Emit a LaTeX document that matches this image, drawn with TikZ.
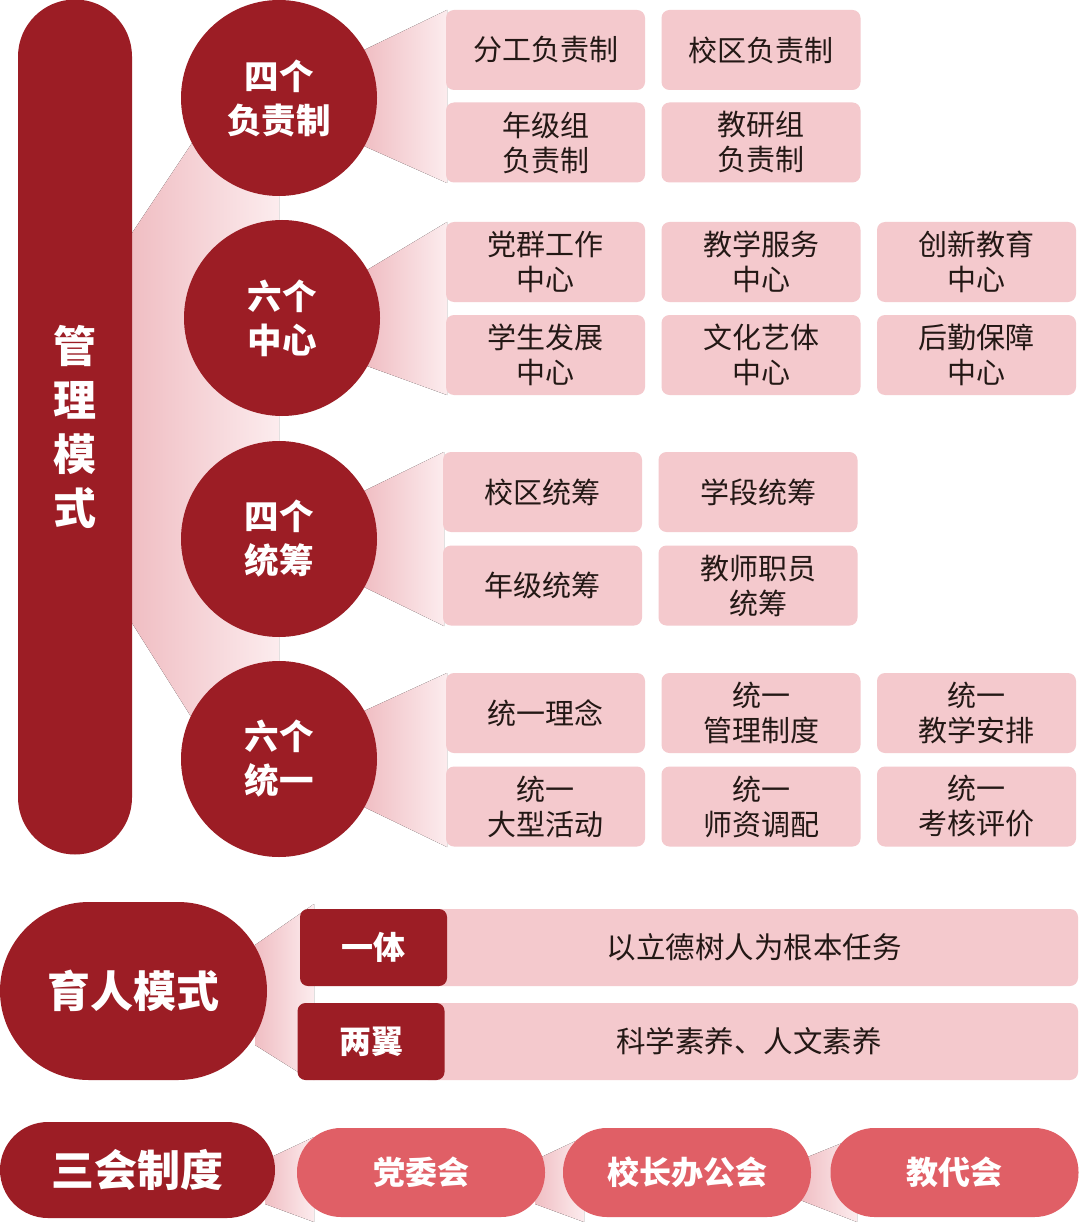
\documentclass[tikz,border=0pt]{standalone}
\usepackage{fontspec}
\setmainfont{Noto Sans CJK SC}
\usetikzlibrary{positioning, shapes}
\definecolor{hongse}{RGB}{156, 29, 37}
\definecolor{fenhong}{RGB}{244, 201, 205}
\definecolor{shanhu}{RGB}{224, 95, 102}
\definecolor{qianfen}{RGB}{240, 190, 195}
\definecolor{danfen}{RGB}{252, 236, 238}
\definecolor{zi}{RGB}{35, 24, 21}
\tikzset{
    moshi/.style={fill=hongse, text=white, inner sep=0pt, font=\bfseries\fontsize{43}{54}\selectfont, align=center},
    quan/.style={circle, fill=hongse, minimum size=196pt, inner sep=0pt, text=white, font=\bfseries\fontsize{34.5}{44}\selectfont, align=center},
    kuang/.style={rectangle, fill=fenhong, rounded corners=8pt, minimum width=199pt, minimum height=80pt, inner sep=0pt, text=zi, font=\fontsize{29}{35}\selectfont, align=center},
    hongkuang/.style={rectangle, fill=hongse, rounded corners=8pt, minimum width=147pt, minimum height=77pt, inner sep=0pt, text=white, font=\bfseries\fontsize{32}{38}\selectfont},
    tiao/.style={rectangle, fill=fenhong, rounded corners=8pt, minimum height=77pt, inner sep=0pt, text=zi, font=\fontsize{29.5}{35}\selectfont},
    hui/.style={rectangle, fill=shanhu, rounded corners=44pt, minimum width=248pt, minimum height=89pt, inner sep=0pt, text=white, font=\bfseries\fontsize{32}{38}\selectfont},
    shan/.style={left color=qianfen, right color=danfen},
}
\begin{document}
\begin{tikzpicture}[x=1pt, y=-1pt]
        \useasboundingbox [fill=white] (0,0) rectangle (1080,1222);

        % fans behind everything
        \fill [shan] (132,233) -- (192,143) -- (279,98) -- (279,759) -- (190,715) -- (132,623) -- cycle;
        \fill [shan] (364,50) -- (447,10) -- (447,183) -- (364,146) -- cycle;
        \fill [shan] (367,270) -- (447,222) -- (447,395) -- (367,366) -- cycle;
        \fill [shan] (364,491) -- (444,452) -- (444,626) -- (364,587) -- cycle;
        \fill [shan] (364,711) -- (447,673) -- (447,847) -- (364,807) -- cycle;
        \fill [shan] (255,945) -- (314,904) -- (314,1080) -- (298,1072) -- (255,1045) -- cycle;
        \fill [shan] (265,1160) -- (314,1137) -- (314,1222) -- (265,1204) -- cycle;
        \fill [shan] (535,1160) -- (584,1137) -- (584,1222) -- (535,1204) -- cycle;
        \fill [shan] (800,1160) -- (857,1137) -- (857,1222) -- (800,1200) -- cycle;

        % management
        \node [moshi, rounded corners=57pt, minimum width=114pt, minimum height=855pt] (guanli) at (75,427) {管\\理\\模\\式};

        \node [quan] (fuze) at (279,98) {四个\\负责制};
        \node [quan] (zhongxin) at (282,318) {六个\\中心};
        \node [quan] (tongchou) at (279,539) {四个\\统筹};
        \node [quan] (tongyi) at (279,759) {六个\\统一};

        \node [kuang] (fz1) at (545.5,50) {分工负责制};
        \node [kuang] (fz2) at (761,50) {校区负责制};
        \node [kuang] (fz3) at (545.5,142.5) {年级组\\负责制};
        \node [kuang] (fz4) at (761,142.5) {教研组\\负责制};

        \node [kuang] (zx1) at (545.5,262) {党群工作\\中心};
        \node [kuang] (zx2) at (761,262) {教学服务\\中心};
        \node [kuang] (zx3) at (976.5,262) {创新教育\\中心};
        \node [kuang] (zx4) at (545.5,355) {学生发展\\中心};
        \node [kuang] (zx5) at (761,355) {文化艺体\\中心};
        \node [kuang] (zx6) at (976.5,355) {后勤保障\\中心};

        \node [kuang] (tc1) at (542.5,492) {校区统筹};
        \node [kuang] (tc2) at (758,492) {学段统筹};
        \node [kuang] (tc3) at (542.5,585.5) {年级统筹};
        \node [kuang] (tc4) at (758,585.5) {教师职员\\统筹};

        \node [kuang] (ty1) at (545.5,713) {统一理念};
        \node [kuang] (ty2) at (761,713) {统一\\管理制度};
        \node [kuang] (ty3) at (976.5,713) {统一\\教学安排};
        \node [kuang] (ty4) at (545.5,806.5) {统一\\大型活动};
        \node [kuang] (ty5) at (761,806.5) {统一\\师资调配};
        \node [kuang] (ty6) at (976.5,806.5) {统一\\考核评价};

        % education
        \node [moshi, rounded corners=89pt, minimum width=267pt, minimum height=178pt] (yuren) at (133.5,991) {育人模式};
        \node [tiao, minimum width=648pt] (renwu) at (754,947.5) {以立德树人为根本任务};
        \node [tiao, minimum width=658pt] (suyang) at (749,1041.5) {科学素养、人文素养};
        \node [hongkuang] (yiti) at (373.5,947.5) {一体};
        \node [hongkuang] (liangyi) at (371,1041.5) {两翼};

        % meetings
        \node [moshi, rounded corners=48pt, minimum width=275pt, minimum height=96pt] (sanhui) at (137.5,1170) {三会制度};
        \node [hui] (dangwei) at (421,1172.5) {党委会};
        \node [hui] (xiaozhang) at (687,1172.5) {校长办公会};
        \node [hui] (jiaodai) at (954.5,1172.5) {教代会};
    \end{tikzpicture}
\end{document}
